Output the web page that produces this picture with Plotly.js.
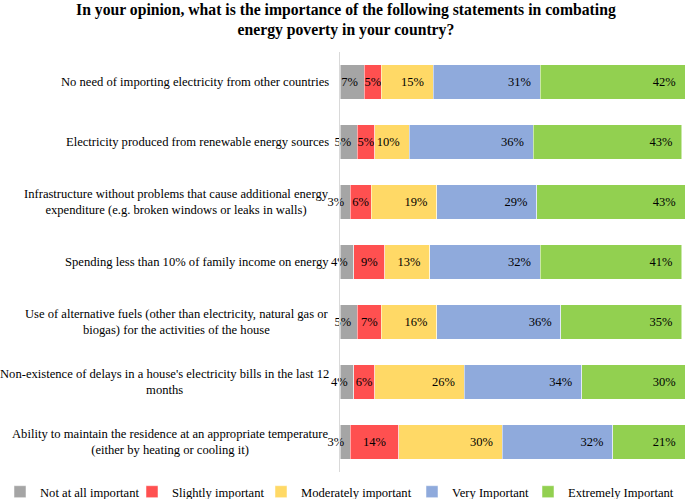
<!DOCTYPE html>
<html>
<head>
<meta charset="utf-8">
<script src="https://cdn.plot.ly/plotly-3.0.1.min.js"></script>
<style>html,body{margin:0;padding:0;background:#fff;}#chart{width:685px;height:499px;}</style>
</head>
<body>
<div id="chart"></div>
<script>
const categories = [
  "No need of importing electricity from other countries",
  "Electricity produced from renewable energy sources",
  "Infrastructure without problems that cause additional energy<br>expenditure (e.g. broken windows or leaks in walls)",
  "Spending less than 10% of family income on energy",
  "Use of alternative fuels (other than electricity, natural gas or<br>biogas) for the activities of the house",
  "Non-existence of delays in a house's electricity bills in the last 12<br>months",
  "Ability to maintain the residence at an appropriate temperature<br>(either by heating or cooling it)"
];
const seriesNames = ["Not at all important", "Slightly important", "Moderately important", "Very Important", "Extremely Important"];
const notAtAll   = [7, 5, 3, 4, 5, 4, 3];
const slightly   = [5, 5, 6, 9, 7, 6, 14];
const moderately = [15, 10, 19, 13, 16, 26, 30];
const very       = [31, 36, 29, 32, 36, 34, 32];
const extremely  = [42, 43, 43, 41, 35, 30, 21];

const colors = ["#A5A5A5", "#FF5050", "#FFD966", "#8FAADC", "#92D050"];
const anchors = ["end", "middle", "end", "end", "end"];
const pads = ["\u00a0", "", "\u00a0\u00a0", "\u00a0\u00a0", "\u00a0\u00a0"];
const allSeries = [notAtAll, slightly, moderately, very, extremely];
const legendIds = ["legend", "legend2", "legend3", "legend4", "legend5"];
const legendTextStart = [35, 172, 301, 452, 568];

const font = "Liberation Serif, Times New Roman, serif";

const traces = allSeries.map((vals, i) => ({
  type: "bar",
  orientation: "h",
  name: seriesNames[i],
  legend: legendIds[i],
  y: categories,
  x: vals,
  text: vals.map(v => v + "%" + pads[i]),
  textposition: "inside",
  insidetextanchor: anchors[i],
  textangle: 0,
  cliponaxis: false,
  constraintext: "none",
  textfont: {family: font, size: 12.5, color: "#000"},
  marker: {color: colors[i], line: {color: "#ffffff", width: 0.5}},
  hoverinfo: "x+name"
}));

const annotations = categories.map(c => ({
  xref: "paper", yref: "y", x: 0, y: c,
  xanchor: "right", yanchor: "middle", xshift: -9,
  align: "center", showarrow: false, text: c,
  font: {family: font, size: 12.6, color: "#000"}
}));

const layout = {
  width: 685, height: 499,
  margin: {l: 340, r: 0, t: 52, b: 27},
  paper_bgcolor: "#fff", plot_bgcolor: "#fff",
  barmode: "stack",
  bargap: 0.43,
  showlegend: true,
  uniformtext: {mode: "show", minsize: 12.5},
  title: {
    text: "<b>In your opinion, what is the importance of the following statements in combating<br>energy poverty in your country?</b>",
    font: {family: font, size: 15.7, color: "#000"},
    x: 0.505, xref: "container", xanchor: "center",
    y: 1 - 15 / 499, yref: "container", yanchor: "middle"
  },
  xaxis: {range: [0, 100], visible: false, fixedrange: true},
  yaxis: {
    type: "category", autorange: "reversed",
    showticklabels: false, ticks: "", showgrid: false, zeroline: false,
    showline: true, linecolor: "#d9d9d9", linewidth: 1
  },
  annotations: annotations
};

legendIds.forEach((id, i) => {
  layout[id] = {
    orientation: "h", xref: "container", x: Math.max(0, (legendTextStart[i] - 40) / 685), xanchor: "left",
    yref: "container", y: (499 - 492) / 499, yanchor: "middle",
    font: {family: font, size: 12.6, color: "#000"},
    itemwidth: 30, bgcolor: "rgba(0,0,0,0)"
  };
});

Plotly.newPlot("chart", traces, layout, {displayModeBar: false, staticPlot: true});
</script>
</body>
</html>
